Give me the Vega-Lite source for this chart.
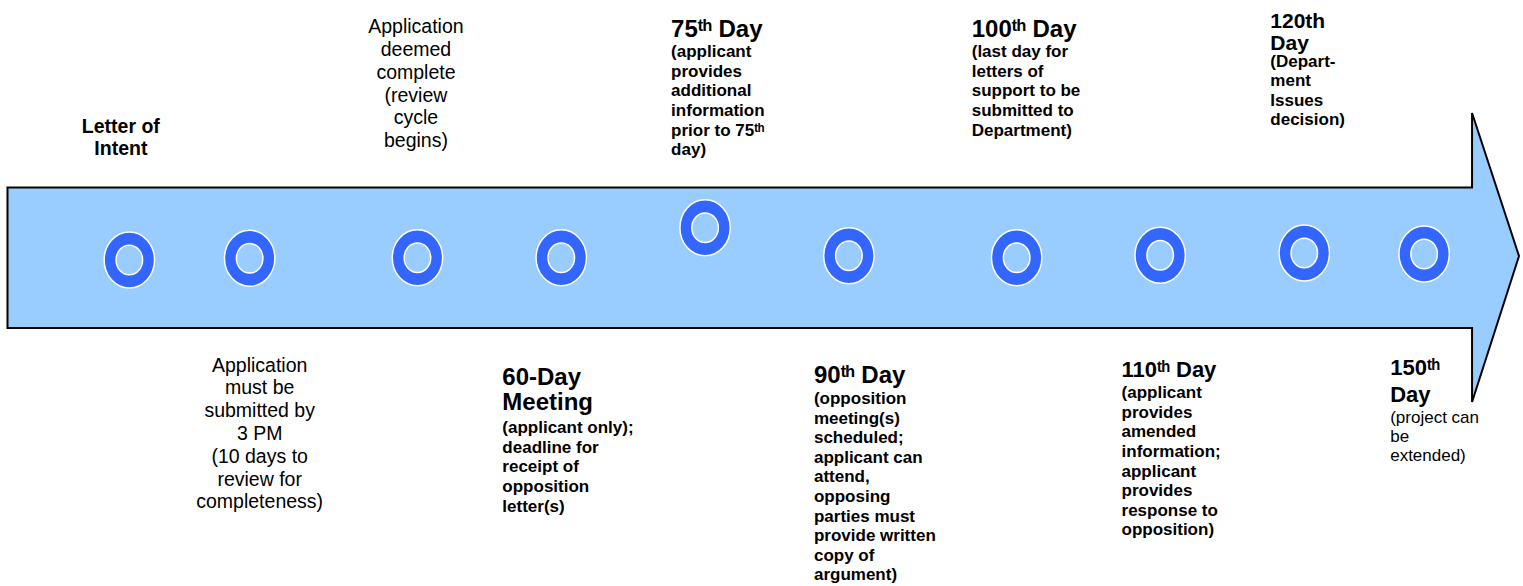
{
  "$schema": "https://vega.github.io/schema/vega-lite/v6.json",
  "width": 1523,
  "height": 586,
  "padding": 0,
  "autosize": {"type": "fit", "contains": "padding"},
  "background": "#FFFFFF",
  "config": {"view": {"stroke": null}},
  "datasets": {
    "arrow": [
      {"ord": 1, "x": 7.5, "y": 187.5},
      {"ord": 2, "x": 1474, "y": 187.5},
      {"ord": 3, "x": 1474, "y": 113},
      {"ord": 4, "x": 1521, "y": 256},
      {"ord": 5, "x": 1474, "y": 402},
      {"ord": 6, "x": 1474, "y": 328},
      {"ord": 7, "x": 7.5, "y": 328}
    ],
    "rings": [
      {"x": 129.5, "y": 260},
      {"x": 250, "y": 258.3},
      {"x": 418, "y": 257.8},
      {"x": 562, "y": 257.7},
      {"x": 706, "y": 227.7},
      {"x": 850, "y": 255.7},
      {"x": 1018, "y": 257.7},
      {"x": 1161.7, "y": 255.3},
      {"x": 1306, "y": 253},
      {"x": 1426, "y": 254}
    ],
    "regularCentered": [
      {"t": ["Application", "deemed", "complete", "(review", "cycle", "begins)"], "x": 416.5, "y": 33.3},
      {"t": ["Application", "must be", "submitted by", "3 PM", " (10 days to", "review for", "completeness)"], "x": 260, "y": 371.7}
    ],
    "boldCentered": [
      {"t": ["Letter of", "Intent"], "x": 121, "y": 133.3}
    ],
    "heads": [
      {"t": "75ᵗʰ Day", "x": 672, "y": 37.3},
      {"t": "100ᵗʰ Day", "x": 973, "y": 37.3},
      {"t": ["60-Day", "Meeting"], "x": 503, "y": 385},
      {"t": "90ᵗʰ Day", "x": 815, "y": 383.3}
    ],
    "headsSmall": [
      {"t": "110ᵗʰ Day", "x": 1123, "y": 376.7},
      {"t": ["150ᵗʰ", "Day"], "x": 1392, "y": 375}
    ],
    "headsTight": [
      {"t": ["120th", "Day"], "x": 1272, "y": 28.3}
    ],
    "subs": [
      {"t": ["(applicant", "provides", "additional", "information", "prior to 75ᵗʰ", "day)"], "x": 672, "y": 57.3},
      {"t": ["(last day for", "letters of", "support to be", "submitted to", "Department)"], "x": 973, "y": 57.3},
      {"t": ["(Depart-", "ment", "Issues", "decision)"], "x": 1272, "y": 66.5},
      {"t": ["(applicant only);", "deadline for", "receipt of", "opposition", "letter(s)"], "x": 503, "y": 433.3},
      {"t": ["(opposition", "meeting(s)", "scheduled;", "applicant can", "attend,", "opposing", "parties must", "provide written", "copy of", "argument)"], "x": 815, "y": 404},
      {"t": ["(applicant", "provides", "amended", "information;", "applicant", "provides", "response to", "opposition)"], "x": 1123, "y": 398.3}
    ],
    "subsRegular": [
      {"t": ["(project can", "be", "extended)"], "x": 1392, "y": 423}
    ]
  },
  "encoding": {
    "x": {"field": "x", "type": "quantitative", "scale": {"domain": [0, 1523], "nice": false, "zero": false}, "axis": null},
    "y": {"field": "y", "type": "quantitative", "scale": {"domain": [0, 586], "nice": false, "zero": false, "reverse": true}, "axis": null}
  },
  "layer": [
    {
      "data": {"name": "arrow"},
      "mark": {"type": "line", "interpolate": "linear-closed", "fill": "#99CCFF", "stroke": "#000000", "strokeWidth": 2, "strokeJoin": "miter"},
      "encoding": {"order": {"field": "ord", "type": "quantitative"}}
    },
    {
      "data": {"name": "rings"},
      "mark": {"type": "point", "shape": "M 0.9 0 A 0.9 1 0 1 1 -0.9 0 A 0.9 1 0 1 1 0.9 0 Z", "size": 3136, "filled": true, "fill": "#3366FF", "stroke": "#FFFFFF", "strokeWidth": 1.5, "opacity": 1}
    },
    {
      "data": {"name": "rings"},
      "mark": {"type": "point", "shape": "M 0.9 0 A 0.9 1 0 1 1 -0.9 0 A 0.9 1 0 1 1 0.9 0 Z", "size": 870, "filled": true, "fill": "#99CCFF", "stroke": "#FFFFFF", "strokeWidth": 1.5, "opacity": 1}
    },
    {
      "data": {"name": "regularCentered"},
      "mark": {"type": "text", "align": "center", "baseline": "alphabetic", "font": "Liberation Sans, DejaVu Sans", "fontSize": 19.5, "lineHeight": 22.8, "fill": "#000000"},
      "encoding": {"text": {"field": "t"}}
    },
    {
      "data": {"name": "boldCentered"},
      "mark": {"type": "text", "align": "center", "baseline": "alphabetic", "font": "Liberation Sans, DejaVu Sans", "fontWeight": "bold", "fontSize": 19.5, "lineHeight": 21.7, "fill": "#000000"},
      "encoding": {"text": {"field": "t"}}
    },
    {
      "data": {"name": "heads"},
      "mark": {"type": "text", "align": "left", "baseline": "alphabetic", "font": "Liberation Sans, DejaVu Sans", "fontWeight": "bold", "fontSize": 24, "lineHeight": 25, "fill": "#000000"},
      "encoding": {"text": {"field": "t"}}
    },
    {
      "data": {"name": "headsSmall"},
      "mark": {"type": "text", "align": "left", "baseline": "alphabetic", "font": "Liberation Sans, DejaVu Sans", "fontWeight": "bold", "fontSize": 22, "lineHeight": 26.7, "fill": "#000000"},
      "encoding": {"text": {"field": "t"}}
    },
    {
      "data": {"name": "headsTight"},
      "mark": {"type": "text", "align": "left", "baseline": "alphabetic", "font": "Liberation Sans, DejaVu Sans", "fontWeight": "bold", "fontSize": 21, "lineHeight": 22, "fill": "#000000"},
      "encoding": {"text": {"field": "t"}}
    },
    {
      "data": {"name": "subs"},
      "mark": {"type": "text", "align": "left", "baseline": "alphabetic", "font": "Liberation Sans, DejaVu Sans", "fontWeight": "bold", "fontSize": 17, "lineHeight": 19.6, "fill": "#000000"},
      "encoding": {"text": {"field": "t"}}
    },
    {
      "data": {"name": "subsRegular"},
      "mark": {"type": "text", "align": "left", "baseline": "alphabetic", "font": "Liberation Sans, DejaVu Sans", "fontSize": 17, "lineHeight": 19, "fill": "#000000"},
      "encoding": {"text": {"field": "t"}}
    }
  ]
}
